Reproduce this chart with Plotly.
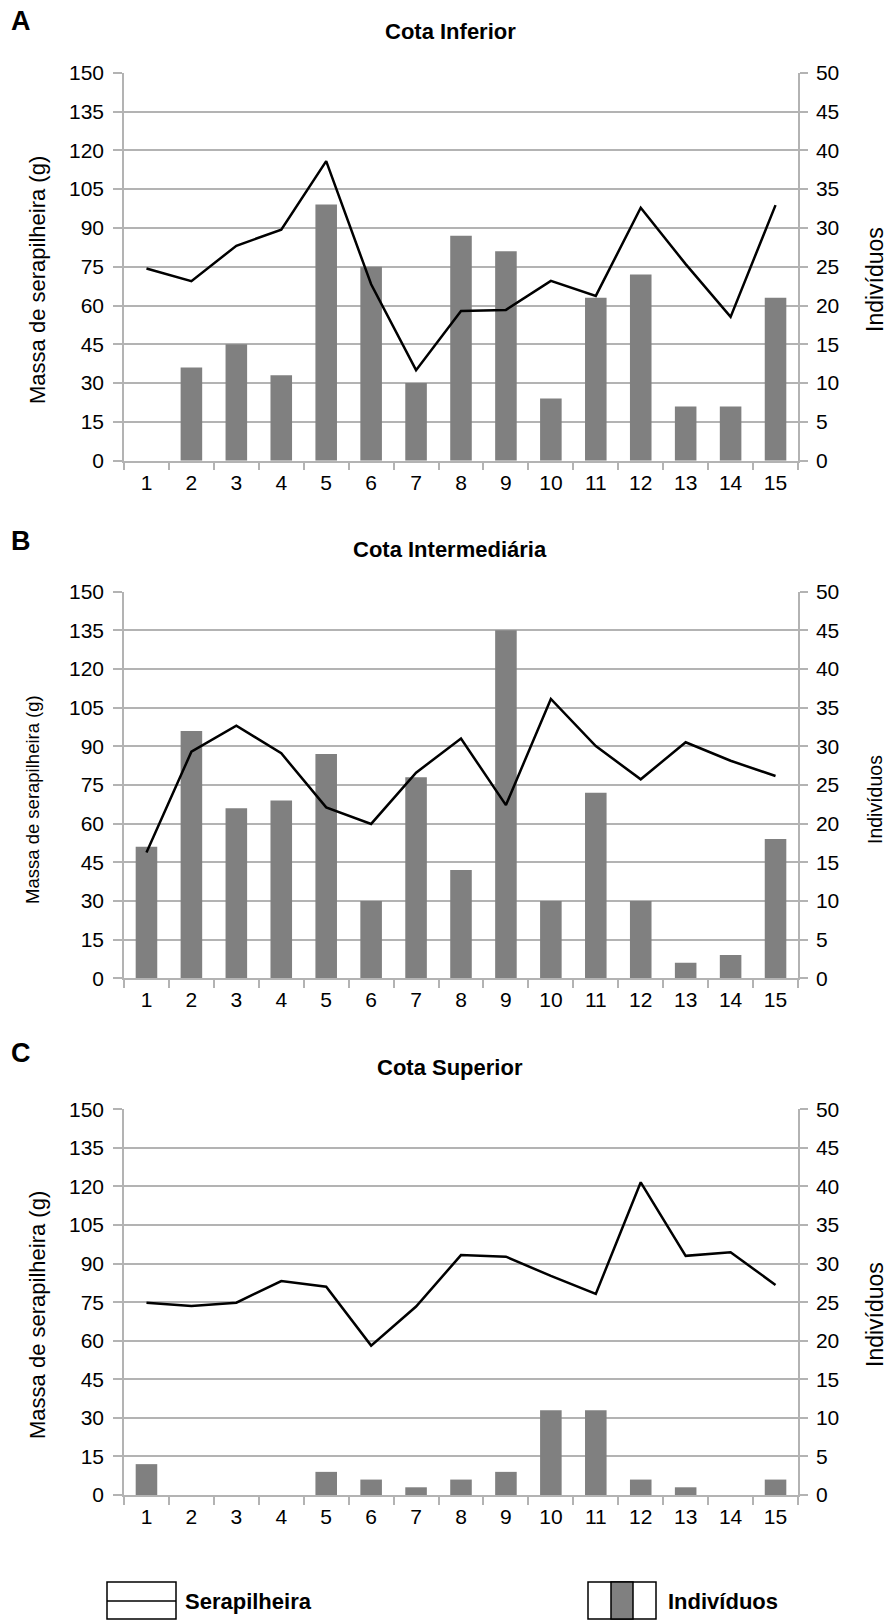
import plotly.graph_objects as go

# ---------------- data ----------------
categories = [str(i) for i in range(1, 16)]

panel_letters = ["A", "B", "C"]
panel_titles = ["Cota Inferior", "Cota Intermediária", "Cota Superior"]

serap_A = [74.3, 69.4, 83.1, 89.3, 115.8, 68.2, 35.0, 57.9, 58.3, 69.5, 63.7, 97.8, 76.0, 55.6, 98.8]
indiv_A = [0, 12, 15, 11, 33, 25, 10, 29, 27, 8, 21, 24, 7, 7, 21]

serap_B = [48.8, 87.9, 98.0, 87.3, 66.3, 59.9, 79.8, 93.0, 67.2, 108.4, 90.1, 77.2, 91.6, 84.4, 78.5]
indiv_B = [17, 32, 22, 23, 29, 10, 26, 14, 45, 10, 24, 10, 2, 3, 18]

serap_C = [74.8, 73.5, 74.8, 83.2, 81.0, 58.1, 73.3, 93.3, 92.7, 85.2, 78.2, 121.6, 93.0, 94.4, 81.7]
indiv_C = [4, 0, 0, 0, 3, 2, 1, 2, 3, 11, 11, 2, 1, 0, 2]

left_ticks = [0, 15, 30, 45, 60, 75, 90, 105, 120, 135, 150]
right_ticks = [0, 5, 10, 15, 20, 25, 30, 35, 40, 45, 50]

left_title = "Massa de serapilheira (g)"
right_title = "Indivíduos"
legend_line_label = "Serapilheira"
legend_bar_label = "Indivíduos"

serap_all = [serap_A, serap_B, serap_C]
indiv_all = [indiv_A, indiv_B, indiv_C]

# ---------------- layout helpers ----------------
W, H = 889, 1620
ML, MR = 124, 91
PW = W - ML - MR
def px(x):
    return (x - ML) / PW
def py(y):
    return 1 - y / H

FONT = "Liberation Sans, Arial, sans-serif"
GRID = "#b3b3b3"
BAR = "#808080"

panel_px = [(72.7, 460.7), (591.7, 978.3), (1109.3, 1495.0)]
title_x = [450, 450, 450]
title_y = [31, 550, 1067]
letter_y = [21, 541, 1053]
ytitle_y = [280, 800, 1315]
ytitle_size = [22, 18.5, 22]
left_title_x = [37, 32, 37]

fig = go.Figure()
annotations = []
shapes = []

for i in range(3):
    xa = "x" if i == 0 else f"x{i+1}"
    yr = f"y{2*i+1}" if i > 0 else "y"
    yl = f"y{2*i+2}"
    fig.add_trace(go.Bar(x=categories, y=indiv_all[i], xaxis=xa, yaxis=yr,
                         marker=dict(color=BAR, line=dict(width=0)),
                         name=legend_bar_label, showlegend=False))
    fig.add_trace(go.Scatter(x=categories, y=serap_all[i], xaxis=xa, yaxis=yl,
                             mode="lines", line=dict(color="black", width=2.5),
                             name=legend_line_label, showlegend=False))

    top, bot = panel_px[i]
    dom = [py(bot), py(top)]
    xkey = "xaxis" if i == 0 else f"xaxis{i+1}"
    yrkey = "yaxis" if i == 0 else f"yaxis{2*i+1}"
    ylkey = f"yaxis{2*i+2}"

    fig.layout[xkey] = dict(
        type="category", categoryorder="array", categoryarray=categories,
        range=[-0.5, 14.5], anchor=yr, tickson="boundaries",
        ticks="outside", ticklen=8, tickcolor=GRID, tickwidth=1.5,
        showline=True, linecolor=GRID, linewidth=1.5, showgrid=False,
        tickfont=dict(family=FONT, size=21, color="black"),
        ticklabelstandoff=2, fixedrange=True, automargin=False,
    )
    fig.layout[yrkey] = dict(
        domain=dom, anchor=xa, side="right", range=[0, 50],
        tickmode="array", tickvals=right_ticks,
        ticks="outside", ticklen=8, tickcolor=GRID, tickwidth=1.5,
        showline=True, linecolor=GRID, linewidth=1.5,
        showgrid=True, gridcolor=GRID, gridwidth=1.5, zeroline=False,
        tickfont=dict(family=FONT, size=21, color="black"),
        ticklabelstandoff=4, automargin=False,
    )
    fig.layout[ylkey] = dict(
        overlaying=yr, anchor=xa, side="left", range=[0, 150],
        tickmode="array", tickvals=left_ticks,
        ticks="outside", ticklen=9, tickcolor=GRID, tickwidth=1.5,
        showline=True, linecolor=GRID, linewidth=1.5,
        showgrid=False, zeroline=False,
        tickfont=dict(family=FONT, size=21, color="black"),
        ticklabelstandoff=5, automargin=False,
    )

    annotations.append(dict(text=f"<b>{panel_titles[i]}</b>", x=px(title_x[i]), y=py(title_y[i]),
                            xref="paper", yref="paper", xanchor="center", yanchor="middle",
                            showarrow=False, font=dict(family=FONT, size=22, color="black")))
    annotations.append(dict(text=f"<b>{panel_letters[i]}</b>", x=px(21), y=py(letter_y[i]),
                            xref="paper", yref="paper", xanchor="center", yanchor="middle",
                            showarrow=False, font=dict(family=FONT, size=27, color="black")))
    annotations.append(dict(text=left_title, x=px(left_title_x[i]), y=py(ytitle_y[i]),
                            xref="paper", yref="paper", xanchor="center", yanchor="middle",
                            textangle=-90, showarrow=False,
                            font=dict(family=FONT, size=ytitle_size[i], color="black")))
    annotations.append(dict(text=right_title, x=px(875), y=py(ytitle_y[i]),
                            xref="paper", yref="paper", xanchor="center", yanchor="middle",
                            textangle=-90, showarrow=False,
                            font=dict(family=FONT, size=ytitle_size[i] + 1, color="black")))

# ---------------- custom legend ----------------
lw = dict(color="black", width=1.5)
shapes.append(dict(type="rect", xref="paper", yref="paper", x0=px(107), x1=px(176),
                   y0=py(1619), y1=py(1582), line=lw, fillcolor="white"))
shapes.append(dict(type="line", xref="paper", yref="paper", x0=px(107), x1=px(176),
                   y0=py(1601), y1=py(1601), line=lw))
shapes.append(dict(type="rect", xref="paper", yref="paper", x0=px(588), x1=px(656),
                   y0=py(1619), y1=py(1582), line=lw, fillcolor="white"))
shapes.append(dict(type="rect", xref="paper", yref="paper", x0=px(611), x1=px(633),
                   y0=py(1619), y1=py(1582), line=lw, fillcolor=BAR))
annotations.append(dict(text=f"<b>{legend_line_label}</b>", x=px(183), y=py(1601),
                        xref="paper", yref="paper", xanchor="left", yanchor="middle",
                        showarrow=False, font=dict(family=FONT, size=22, color="black")))
annotations.append(dict(text=f"<b>{legend_bar_label}</b>", x=px(666), y=py(1601),
                        xref="paper", yref="paper", xanchor="left", yanchor="middle",
                        showarrow=False, font=dict(family=FONT, size=22, color="black")))

fig.update_layout(
    width=W, height=H,
    margin=dict(l=ML, r=MR, t=0, b=0, pad=0, autoexpand=False),
    plot_bgcolor="white", paper_bgcolor="white",
    bargap=0.52, showlegend=False,
    annotations=annotations, shapes=shapes,
    font=dict(family=FONT, color="black"),
)

fig.write_html("out.html", config={"displayModeBar": False},
               post_script="document.body.style.margin='0';document.body.style.overflow='hidden';")
